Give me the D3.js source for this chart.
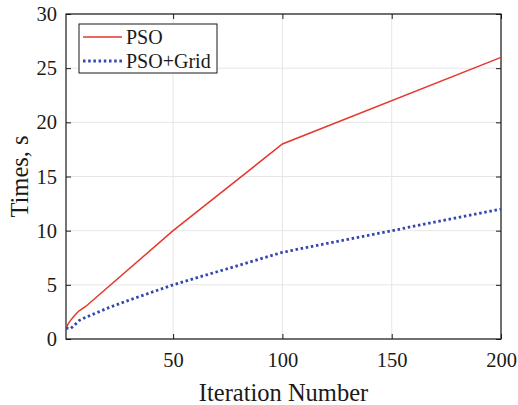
<!DOCTYPE html>
<html>
<head>
<meta charset="utf-8">
<script src="https://cdn.jsdelivr.net/npm/d3@7"></script>
<style>
  body { margin: 0; background: #fff; }
  svg text { font-family: "Liberation Serif", "Times New Roman", serif; fill: #1a1a1a; }
</style>
</head>
<body>
<div id="chart"></div>
<script>
// data
var iterPSO = [1, 2, 3, 5, 7, 10, 50, 100, 200];
var timePSO = [1, 1.4, 1.7, 2.2, 2.6, 3, 10, 18, 26];

var iterGrid = [1, 3, 5, 7, 10, 20, 30, 50, 100, 200];
var timeGrid = [1, 0.95, 1.3, 1.7, 2, 2.85, 3.6, 5, 8, 12];

var xTicks = [50, 100, 150, 200];
var yTicks = [0, 5, 10, 15, 20, 25, 30];

var seriesNames = ["PSO", "PSO+Grid"];

var serif = "Liberation Serif";

var margin = {top: 14, right: 17, bottom: 66, left: 66},
    width = 518 - margin.left - margin.right,
    height = 405 - margin.top - margin.bottom;

var svg = d3.select("#chart").append("svg")
    .attr("width", 518)
    .attr("height", 405)
    .append("g")
    .attr("transform", "translate(" + margin.left + "," + margin.top + ")");

var x = d3.scaleLinear().domain([1, 200]).range([0, width]);
var y = d3.scaleLinear().domain([0, 30]).range([height, 0]);

// grid
svg.append("g").selectAll("line.gx")
    .data(xTicks).enter().append("line")
    .attr("x1", function (d) { return x(d); })
    .attr("x2", function (d) { return x(d); })
    .attr("y1", 0).attr("y2", height)
    .attr("stroke", "#e6e6e6");

svg.append("g").selectAll("line.gy")
    .data(yTicks).enter().append("line")
    .attr("y1", function (d) { return y(d); })
    .attr("y2", function (d) { return y(d); })
    .attr("x1", 0).attr("x2", width)
    .attr("stroke", "#e6e6e6");

// axes, ticks inside
var fmt = d3.format("d");
var customAxis = function (g) {
    g.attr("font-family", serif);
    g.select(".domain").remove();
    g.selectAll(".tick line").attr("stroke", "#1a1a1a");
    g.selectAll(".tick text").attr("font-size", 20.5).attr("fill", "#1a1a1a");
};

svg.append("g")
    .attr("transform", "translate(0," + height + ")")
    .call(d3.axisBottom(x).tickValues(xTicks).tickFormat(fmt).tickSize(-5).tickPadding(13))
    .call(customAxis);

svg.append("g")
    .call(d3.axisTop(x).tickValues(xTicks).tickFormat("").tickSize(-5))
    .call(customAxis);

svg.append("g")
    .call(d3.axisLeft(y).tickValues(yTicks).tickFormat(fmt).tickSize(-5).tickPadding(9))
    .call(customAxis);

svg.append("g")
    .attr("transform", "translate(" + width + ",0)")
    .call(d3.axisRight(y).tickValues(yTicks).tickFormat("").tickSize(-5))
    .call(customAxis);

svg.append("rect")
    .attr("width", width).attr("height", height)
    .attr("fill", "none").attr("stroke", "#1a1a1a").attr("stroke-width", 1.2);

// lines
var line = d3.line()
    .x(function (d) { return x(d[0]); })
    .y(function (d) { return y(d[1]); });

svg.append("path")
    .datum(d3.zip(iterPSO, timePSO))
    .attr("d", line)
    .attr("fill", "none")
    .attr("stroke", "#e5372b")
    .attr("stroke-width", 1.5);

svg.append("path")
    .datum(d3.zip(iterGrid, timeGrid))
    .attr("d", line)
    .attr("fill", "none")
    .attr("stroke", "#3446b0")
    .attr("stroke-width", 2.8)
    .attr("stroke-dasharray", "2.5,2.7");

// axis labels
svg.append("text")
    .attr("x", width / 2)
    .attr("y", height + 62)
    .attr("text-anchor", "middle")
    .attr("font-family", serif)
    .attr("font-size", 24.5)
    .text("Iteration Number");

svg.append("text")
    .attr("transform", "translate(-38," + (height / 2) + ") rotate(-90)")
    .attr("text-anchor", "middle")
    .attr("font-family", serif)
    .attr("font-size", 24.5)
    .text("Times, s");

// legend
var key = svg.append("g")
    .attr("transform", "translate(13,10)");

key.append("rect")
    .attr("width", 138).attr("height", 49)
    .attr("fill", "#fff").attr("stroke", "#1a1a1a").attr("stroke-width", 1);

var styles = [
    {stroke: "#e5372b", width: 1.5, dash: null},
    {stroke: "#3446b0", width: 2.8, dash: "2.5,2.7"}
];

seriesNames.forEach(function (name, i) {
    var row = key.append("g").attr("transform", "translate(0," + (13 + i * 24) + ")");
    row.append("line")
        .attr("x1", 4).attr("x2", 43)
        .attr("stroke", styles[i].stroke)
        .attr("stroke-width", styles[i].width)
        .attr("stroke-dasharray", styles[i].dash);
    row.append("text")
        .attr("x", 47).attr("y", 7)
        .attr("font-family", serif)
        .attr("font-size", 20)
        .text(name);
});
</script>
</body>
</html>
